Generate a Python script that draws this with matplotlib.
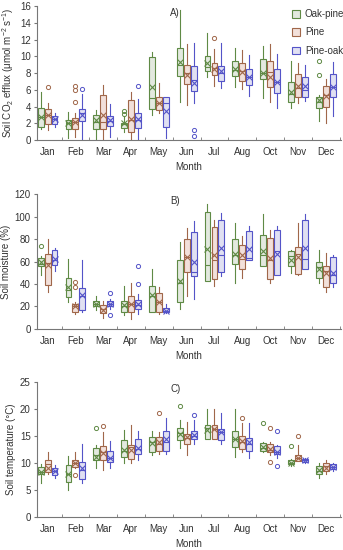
import matplotlib
matplotlib.use("Agg")
import matplotlib.pyplot as plt
from matplotlib.patches import Patch

months = ["Jan", "Feb", "Mar", "Apr", "May", "Jun", "Jul", "Aug", "Oct", "Nov", "Dec"]
series = ["Oak-pine", "Pine", "Pine-oak"]

# each entry: (whisker low, q1, median, q3, whisker high, mean)
co2_oakpine = [(1.4, 1.6, 2.8, 3.8, 5.7, 2.8), (0.3, 1.35, 2.0, 2.4, 3.4, 2.0), (0.1, 1.4, 2.2, 3.0, 3.6, 2.4),
               (1.0, 1.5, 1.9, 2.1, 2.9, 2.0), (3.0, 3.7, 5.0, 9.9, 10.5, 6.3), (4.6, 7.7, 9.0, 11.0, 15.5, 9.3),
               (7.6, 8.2, 8.7, 10.1, 12.8, 9.2), (6.4, 7.7, 8.4, 9.4, 11.0, 8.5), (5.0, 7.3, 8.0, 9.7, 11.2, 8.0),
               (3.9, 4.6, 5.5, 7.0, 9.4, 5.8), (2.3, 3.9, 4.6, 5.2, 5.4, 4.8)]
co2_pine = [(1.2, 1.9, 3.0, 3.7, 4.5, 3.0), (0.4, 1.4, 2.2, 2.6, 3.3, 2.2), (0.0, 1.4, 2.2, 5.4, 6.6, 3.0),
            (0.0, 1.0, 2.4, 4.8, 5.8, 2.5), (3.3, 3.6, 4.5, 5.1, 6.8, 4.4), (4.2, 6.7, 8.0, 9.0, 11.5, 7.8),
            (6.5, 7.8, 8.6, 9.2, 10.9, 8.5), (6.1, 7.1, 8.3, 9.2, 10.8, 8.1), (4.6, 6.4, 8.1, 9.5, 11.5, 7.6),
            (4.5, 5.2, 6.2, 7.9, 9.2, 6.5), (2.0, 4.0, 5.4, 6.5, 7.3, 5.3)]
co2_pineoak = [(1.6, 1.9, 2.5, 2.9, 3.2, 2.5), (0.0, 2.3, 3.2, 3.7, 5.5, 3.0), (0.4, 1.7, 2.3, 2.9, 4.3, 2.4),
               (0.2, 1.5, 2.4, 3.3, 4.9, 2.5), (0.3, 1.6, 4.4, 5.1, 5.1, 3.5), (4.4, 5.9, 7.2, 8.8, 11.6, 6.8),
               (6.2, 7.1, 8.0, 8.9, 11.6, 8.2), (5.3, 6.6, 7.5, 8.5, 10.2, 7.6), (3.8, 5.6, 7.0, 8.5, 10.3, 6.9),
               (4.7, 5.2, 6.0, 7.5, 9.0, 6.5), (2.9, 5.2, 6.3, 7.9, 9.3, 6.3)]
co2_fliers = {("Pine", "Jan"): [6.3], ("Pine", "Feb"): [6.5, 6.0, 4.6], ("Pine-oak", "Feb"): [6.1],
              ("Oak-pine", "Apr"): [3.5, 3.1], ("Pine-oak", "Apr"): [6.5], ("Pine-oak", "Jun"): [1.2, 0.5],
              ("Pine", "Jul"): [12.2], ("Oak-pine", "Dec"): [9.4, 7.8]}

moist_oakpine = [(48, 56, 58, 63, 65, 60), (24, 28, 35, 45, 62, 37), (17, 20.5, 22, 25, 29, 22),
                 (12, 15, 20, 25, 38, 21), (15, 15, 29, 38, 53, 30), (18, 24, 41, 61, 77, 43),
                 (43, 43, 57, 104, 111, 71), (41, 58, 66, 80, 94, 67), (56, 56, 66, 84, 102, 69),
                 (50, 56, 65, 69, 70, 61), (41, 45, 55, 60, 70, 53)]
moist_pine = [(33, 39, 59, 67, 80, 57), (13, 15, 20, 22, 24, 20), (10, 14, 18, 21, 25, 17),
              (9, 15, 22, 29, 41, 22), (13, 15, 24, 32, 37, 24), (29, 51, 64, 80, 90, 64),
              (38, 44, 61, 91, 97, 66), (45, 53, 62, 75, 83, 66), (41, 44, 61, 81, 88, 63),
              (48, 49, 67, 73, 94, 64), (33, 37, 52, 56, 68, 50)]
moist_pineoak = [(52, 57, 61, 70, 72, 62), (15, 17, 29, 36, 61, 30), (18, 20, 22, 25, 27, 22),
                 (13, 18, 21, 26, 31, 22), (14, 15, 16, 19, 22, 16), (27, 47, 51, 86, 96, 60),
                 (47, 51, 66, 97, 103, 72), (61, 61, 63, 87, 92, 71), (48, 48, 69, 88, 92, 67),
                 (53, 53, 62, 97, 102, 72), (37, 41, 48, 64, 66, 50)]
moist_fliers = {("Oak-pine", "Jan"): [74], ("Pine", "Feb"): [42, 37], ("Pine-oak", "Mar"): [32, 12],
                ("Pine-oak", "Apr"): [56, 40]}

temp_oakpine = [(6.3, 8.0, 8.3, 9.3, 9.8, 8.3), (5.0, 6.5, 8.0, 9.6, 11.4, 8.0), (9.0, 10.5, 11.5, 12.8, 13.3, 11.2),
                (10.0, 11.1, 12.3, 14.3, 16.1, 12.5), (11.5, 12.0, 14.0, 14.9, 16.0, 13.8), (12.8, 14.2, 15.5, 16.5, 18.0, 15.4),
                (14.4, 14.4, 16.5, 17.1, 20.0, 16.2), (11.1, 13.0, 14.5, 16.0, 20.0, 14.4), (12.0, 12.2, 12.8, 13.7, 14.0, 12.9),
                (9.5, 9.9, 10.0, 10.5, 10.7, 10.0), (7.2, 7.9, 8.6, 9.4, 10.0, 8.8)]
temp_pine = [(8.0, 8.3, 9.9, 10.5, 12.0, 9.0), (9.0, 9.3, 10.0, 10.5, 12.0, 10.0), (8.7, 10.5, 12.0, 13.1, 15.8, 11.8),
             (10.0, 10.8, 12.9, 13.4, 17.0, 12.5), (11.7, 12.3, 13.5, 14.9, 15.7, 14.0), (11.5, 13.6, 14.6, 15.4, 17.7, 14.8),
             (14.4, 14.4, 16.4, 17.0, 20.0, 16.3), (12.0, 12.7, 14.0, 15.1, 17.5, 14.1), (11.5, 12.0, 12.5, 13.5, 14.0, 12.6),
             (10.3, 10.4, 11.0, 11.5, 13.3, 11.0), (8.0, 8.6, 9.5, 10.0, 10.5, 9.1)]
temp_pineoak = [(7.3, 7.7, 8.6, 9.1, 9.6, 8.6), (6.4, 7.1, 8.8, 10.2, 13.5, 9.0), (9.0, 10.2, 11.0, 12.3, 14.1, 11.0),
                (10.6, 11.7, 12.7, 14.5, 16.0, 12.8), (11.6, 12.3, 14.0, 15.9, 18.3, 14.4), (13.5, 14.5, 15.0, 16.0, 18.0, 15.2),
                (13.5, 14.2, 15.7, 16.3, 19.3, 15.8), (11.0, 12.3, 13.5, 14.7, 17.4, 13.9), (11.0, 11.6, 12.0, 13.1, 13.3, 12.0),
                (10.0, 10.2, 10.5, 10.8, 11.0, 10.5), (8.6, 8.9, 9.3, 9.9, 10.0, 9.3)]
temp_fliers = {("Pine", "Feb"): [7.8], ("Oak-pine", "Mar"): [16.5], ("Pine", "Mar"): [16.8],
               ("Pine", "May"): [19.3], ("Oak-pine", "Jun"): [20.6], ("Pine-oak", "Jun"): [19.0],
               ("Pine", "Aug"): [18.3], ("Oak-pine", "Oct"): [17.4], ("Pine", "Oct"): [16.5, 10.2],
               ("Pine-oak", "Oct"): [16.0, 9.5], ("Oak-pine", "Nov"): [13.2], ("Pine", "Nov"): [15.0]}

panels = [
    ("A)", "Soil CO$_2$ efflux (μmol m$^{-2}$ s$^{-1}$)", [co2_oakpine, co2_pine, co2_pineoak], co2_fliers, (0, 16), range(0, 17, 2)),
    ("B)", "Soil moisture (%)", [moist_oakpine, moist_pine, moist_pineoak], moist_fliers, (0, 120), range(0, 121, 20)),
    ("C)", "Soil temperature (°C)", [temp_oakpine, temp_pine, temp_pineoak], temp_fliers, (0, 25), range(0, 26, 5)),
]

edge_colors = ["#5f8a45", "#a0674a", "#5454c8"]
fill_colors = ["#e3e9df", "#f2e0da", "#e0e0f2"]
offsets = [-0.25, 0.0, 0.25]
text_color = "#333333"

plt.rcParams["font.family"] = ["Liberation Sans", "DejaVu Sans"]
plt.rcParams["font.size"] = 7
plt.rcParams["mathtext.fontset"] = "custom"
plt.rcParams["mathtext.rm"] = "Liberation Sans"
plt.rcParams["mathtext.it"] = "Liberation Sans:italic"

fig = plt.figure(figsize=(3.43, 5.5), dpi=100)
rects = [[0.108, 0.745, 0.886, 0.244], [0.108, 0.402, 0.886, 0.245], [0.108, 0.06, 0.886, 0.245]]

for (title, ylabel, data, fliers, ylim, yticks), rect in zip(panels, rects):
    ax = fig.add_axes(rect)
    for si, (sname, sdata) in enumerate(zip(series, data)):
        stats = []
        for mi, m in enumerate(months):
            lo, q1, med, q3, hi, mean = sdata[mi]
            stats.append(dict(whislo=lo, q1=q1, med=med, q3=q3, whishi=hi, mean=mean,
                              fliers=fliers.get((sname, m), [])))
        pos = [i + offsets[si] for i in range(len(months))]
        c = edge_colors[si]
        ax.bxp(stats, positions=pos, widths=0.21, patch_artist=True, showmeans=True,
               showcaps=False, manage_ticks=False,
               boxprops=dict(facecolor=fill_colors[si], edgecolor=c, linewidth=0.8),
               medianprops=dict(color=c, linewidth=0.8),
               whiskerprops=dict(color=c, linewidth=0.8),
               meanprops=dict(marker="x", markeredgecolor=c, markersize=4, markeredgewidth=0.8),
               flierprops=dict(marker="o", markerfacecolor="none", markeredgecolor=c,
                               markersize=3, markeredgewidth=0.7))
    ax.set_xlim(-0.38, len(months) - 0.45)
    ax.set_ylim(*ylim)
    ax.set_yticks(list(yticks))
    ax.set_xticks(range(len(months)))
    ax.set_xticklabels(months, color=text_color)
    ax.set_xticks([i + 0.5 for i in range(len(months))], minor=True)
    ax.tick_params(axis="x", which="major", length=0, pad=5)
    ax.tick_params(axis="x", which="minor", length=2.5, direction="in", color="#777777")
    ax.tick_params(axis="y", length=2.5, color="#777777", labelcolor=text_color, pad=2)
    for s in ["top", "right"]:
        ax.spines[s].set_visible(False)
    for s in ["left", "bottom"]:
        ax.spines[s].set_color("#777777")
        ax.spines[s].set_linewidth(0.8)
    ax.set_ylabel(ylabel, color=text_color, labelpad=3)
    ax.set_xlabel("Month", color=text_color, labelpad=3.5)
    ax.text(0.455, 0.985, title, transform=ax.transAxes, ha="center", va="top", color=text_color)

    if title == "A)":
        handles = [Patch(facecolor=fill_colors[i], edgecolor=edge_colors[i], linewidth=0.8, label=series[i])
                   for i in range(3)]
        leg = ax.legend(handles=handles, loc="upper right", bbox_to_anchor=(1.03, 1.02), frameon=False,
                        handlelength=0.8, handleheight=0.8, labelspacing=0.85, handletextpad=0.5,
                        borderaxespad=0.2)
        for t in leg.get_texts():
            t.set_color(text_color)

fig.savefig("out.png", dpi=100)
